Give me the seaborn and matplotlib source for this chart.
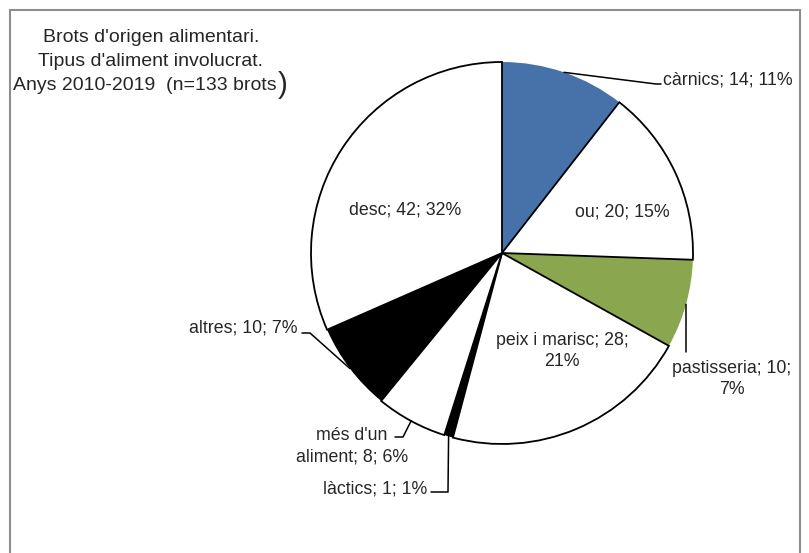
import numpy as np
import matplotlib
matplotlib.use("Agg")
import matplotlib.pyplot as plt
from matplotlib.patches import Rectangle
import seaborn as sns

sns.set_style("white")
plt.rcParams['font.family'] = ['Liberation Sans', 'DejaVu Sans']

# dades
categories = ["càrnics", "ou", "pastisseria", "peix i marisc", "làctics",
              "més d'un aliment", "altres", "desc"]
counts = [14, 20, 10, 28, 1, 8, 10, 42]
percents = [11, 15, 7, 21, 1, 6, 7, 32]
colors = ["#4672a9", "white", "#8aa64f", "white", "black", "white", "black", "white"]

title_lines = ["Brots d'origen alimentari.", "Tipus d'aliment involucrat.",
               "Anys 2010-2019  (n=133 brots"]

# layout (pixels)
W, H = 809, 553
CX, CY, R = 502, 253, 191


def px(x, y):
    return (x - CX) / R, (CY - y) / R


labels = ["%s; %d; %d%%" % (c, n, p) for c, n, p in zip(categories, counts, percents)]
labels[2] = "pastisseria; %d;\n%d%%" % (counts[2], percents[2])
labels[3] = "peix i marisc; %d;\n%d%%" % (counts[3], percents[3])
labels[5] = "més d'un\naliment; %d; %d%%" % (counts[5], percents[5])

label_xy = [(663, 80, 'left'), (622, 212, 'center'), (732, 379, 'center'),
            (562, 351, 'center'), (427, 489, 'right'), (352, 446, 'center'),
            (297, 328, 'right'), (405, 210, 'center')]
leader_pts = {0: [(656, 84), (661, 84)], 2: [(686, 352)],
              4: [(448, 492), (431, 492)], 5: [(403, 437), (395, 437)],
              6: [(310, 333), (302, 333)]}

fig = plt.figure(figsize=(W / 100, H / 100), dpi=100)
ax = fig.add_axes([0, 0, 1, 1])

wedges, _ = ax.pie(counts, colors=colors, startangle=90, counterclock=False,
                   radius=1, center=(0, 0), wedgeprops=dict(linewidth=1.3))
for w, c in zip(wedges, colors):
    if c == "white":
        w.set_edgecolor("black")
        w.set_zorder(3)
    else:
        w.set_edgecolor("none")
        w.set_zorder(2)

x0, y0 = px(0, H)
x1, y1 = px(W, 0)
ax.set_aspect('auto')
ax.set_xlim(x0, x1)
ax.set_ylim(y0, y1)
ax.axis('off')

for i, (w, lab) in enumerate(zip(wedges, labels)):
    lx, ly, ha = label_xy[i]
    ax.text(*px(lx, ly), lab, ha=ha, va='center', fontsize=12.8,
            linespacing=1.35, zorder=5)
    if i in leader_pts:
        ang = np.deg2rad((w.theta1 + w.theta2) / 2)
        xs = [np.cos(ang)] + [px(*p)[0] for p in leader_pts[i]]
        ys = [np.sin(ang)] + [px(*p)[1] for p in leader_pts[i]]
        ax.plot(xs, ys, color="black", lw=1.1, zorder=4)

# titol
tx = 151
fig.text(tx / W, 1 - 38 / H, title_lines[0], ha='center', va='center', fontsize=14)
fig.text(tx / W, 1 - 61 / H, title_lines[1], ha='center', va='center', fontsize=14)
t3 = fig.text(13 / W, 1 - 85 / H, title_lines[2], ha='left', va='center', fontsize=14)
ax.annotate(")", xy=(1, 0.5), xycoords=t3, xytext=(1, 0), textcoords='offset points',
            ha='left', va='center', fontsize=21)

# marc
fig.add_artist(Rectangle((10 / W, -0.1), 790 / W, (1 - 10 / H) + 0.1,
                         transform=fig.transFigure, fill=False,
                         edgecolor="#8e8e8e", lw=1.5))

fig.savefig("out.png", dpi=100)
